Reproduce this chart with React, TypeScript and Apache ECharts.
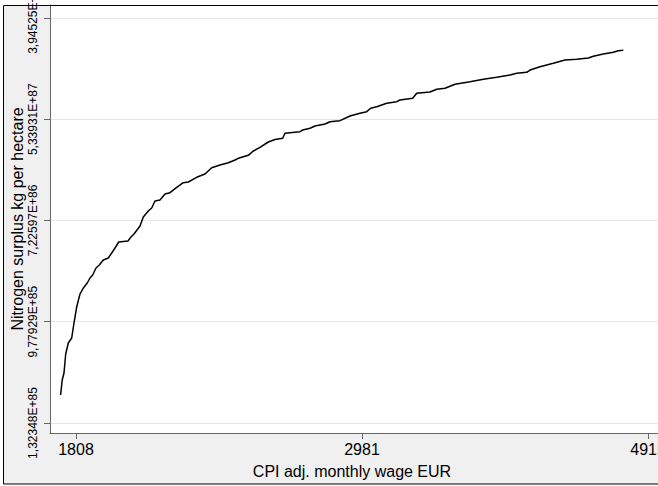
import React, { useEffect, useRef } from 'react';
import * as echarts from 'echarts';

// CPI adjusted monthly wage (EUR)
const wageEUR = [
  1760, 1765, 1770.5, 1775.8, 1783.9, 1794.5, 1801.7, 1810.2, 1820.7, 1831.3,
  1844.1, 1852.8, 1861.6, 1872.4, 1883.2, 1896.4, 1913.1, 1924.5, 1935.6, 1948.2,
  1980.1, 1990.5, 2001.0, 2022.1, 2033.8, 2051.7, 2063.9, 2075.8, 2094.0, 2112.4,
  2131.0, 2156.1, 2181.1, 2200.3, 2232.8, 2265.4, 2292.2, 2325.6, 2359.6, 2387.4,
  2401.2, 2443.6, 2465.1, 2494.1, 2530.5, 2560.4, 2595.1, 2605.5, 2674.7, 2687.4,
  2721.9, 2745.8, 2794.2, 2818.8, 2868.5, 2919.1, 2970.6, 3005.6, 3026.6, 3058.6,
  3112.5, 3167.4, 3185.7, 3257.3, 3280.1, 3357.3, 3396.9, 3446.5, 3507.3, 3600.5,
  3685.2, 3772.5, 3861.3, 3906.8, 3975.7, 3998.7, 4069.2, 4164.9, 4251.0, 4338.9,
  4427.8, 4466.6, 4545.4, 4625.6, 4666.2, 4707.2,
];

// natural log of nitrogen surplus (kg per hectare)
const lnSurplus = [
  196.553, 196.849, 196.988, 197.363, 197.580, 197.679, 197.975, 198.291, 198.548, 198.666,
  198.765, 198.864, 198.923, 199.061, 199.121, 199.219, 199.259, 199.358, 199.456, 199.575,
  199.595, 199.674, 199.733, 199.891, 200.069, 200.187, 200.246, 200.385, 200.404, 200.523,
  200.549, 200.655, 200.746, 200.760, 200.853, 200.918, 201.042, 201.096, 201.141, 201.195,
  201.228, 201.287, 201.372, 201.445, 201.550, 201.599, 201.623, 201.722, 201.753, 201.787,
  201.821, 201.866, 201.906, 201.951, 201.971, 202.064, 202.117, 202.149, 202.216, 202.247,
  202.314, 202.346, 202.380, 202.413, 202.512, 202.538, 202.591, 202.611, 202.690, 202.741,
  202.789, 202.828, 202.873, 202.907, 202.927, 202.972, 203.037, 203.104, 203.170, 203.184,
  203.209, 203.243, 203.288, 203.322, 203.353, 203.361,
];

const xTickValues = [1808, 2981, 4915];
const xTickLabels = ['1808', '2981', '4915'];
const yTickLnValues = [196, 198, 200, 202, 204];
const yTickLabels = ['1,32348E+85', '9,77929E+85', '7,22597E+86', '5,33931E+87', '3,94525E+88'];

const xTitle = 'CPI adj. monthly wage EUR';
const yTitle = 'Nitrogen surplus kg per hectare';

export default function App() {
  const ref = useRef<HTMLDivElement>(null);

  useEffect(() => {
    if (!ref.current) return;
    const chart = echarts.init(ref.current, null, { renderer: 'svg' });
    const font = "'Liberation Sans', Arial, Helvetica, sans-serif";
    const xTicks = xTickValues.map((v) => Math.log(v));

    const pick = (ticks: number[], labels: string[]) => (v: number) => {
      const i = ticks.findIndex((t) => Math.abs(t - v) < 1e-6);
      return i >= 0 ? labels[i] : '';
    };

    const option: any = {
      animation: false,
      backgroundColor: '#ffffff',
      textStyle: { fontFamily: font },
      graphic: [
        {
          type: 'rect',
          z: -10,
          silent: true,
          shape: { x: 3, y: 5, width: 700, height: 479 },
          style: { fill: '#f0f0f0' },
        },
        {
          type: 'rect',
          z: 100,
          silent: true,
          shape: { x: 3.5, y: 5.5, width: 700, height: 478.5 },
          style: { fill: 'none', stroke: '#000000', lineWidth: 1 },
        },
        {
          type: 'text',
          z: 50,
          x: 352,
          y: 471,
          style: {
            text: xTitle,
            fill: '#000000',
            font: `16px ${font}`,
            textAlign: 'center',
            textVerticalAlign: 'middle',
          },
        },
        {
          type: 'text',
          z: 50,
          x: 17,
          y: 219,
          rotation: Math.PI / 2,
          style: {
            text: yTitle,
            fill: '#000000',
            font: `16px ${font}`,
            textAlign: 'center',
            textVerticalAlign: 'middle',
          },
        },
      ],
      grid: {
        left: 50,
        top: 5,
        width: 618,
        height: 428,
        show: true,
        backgroundColor: '#ffffff',
        borderWidth: 0,
        containLabel: false,
        outerBoundsMode: 'none',
      },
      xAxis: {
        type: 'value',
        min: 7.45455,
        max: 8.53497,
        axisLine: { show: true, onZero: false, lineStyle: { color: '#666666', width: 1 } },
        axisTick: {
          show: true,
          length: 6,
          customValues: xTicks,
          lineStyle: { color: '#666666', width: 1 },
        },
        axisLabel: {
          customValues: xTicks,
          formatter: pick(xTicks, xTickLabels),
          fontSize: 16,
          color: '#000000',
          margin: 8,
          fontFamily: font,
          hideOverlap: false,
        },
        splitLine: { show: false },
      },
      yAxis: {
        type: 'value',
        min: 195.8025,
        max: 204.256,
        axisLine: { show: true, onZero: false, lineStyle: { color: '#666666', width: 1 } },
        axisTick: {
          show: true,
          length: 6,
          customValues: yTickLnValues,
          lineStyle: { color: '#666666', width: 1 },
        },
        axisLabel: {
          customValues: yTickLnValues,
          formatter: pick(yTickLnValues, yTickLabels),
          rotate: 90,
          fontSize: 12,
          color: '#000000',
          margin: 11,
          fontFamily: font,
          hideOverlap: false,
        },
        splitLine: { show: true, lineStyle: { color: '#e6e6e6', width: 1 } },
      },
      series: [
        {
          type: 'line',
          data: wageEUR.map((w, i) => [Math.log(w), lnSurplus[i]]),
          symbol: 'none',
          showSymbol: false,
          z: 5,
          lineStyle: { color: '#000000', width: 1.5 },
        },
      ],
    };

    chart.setOption(option);
    return () => chart.dispose();
  }, []);

  return (
    <div
      ref={ref}
      style={{ position: 'absolute', left: 0, top: 0, width: 658, height: 486 }}
    />
  );
}
